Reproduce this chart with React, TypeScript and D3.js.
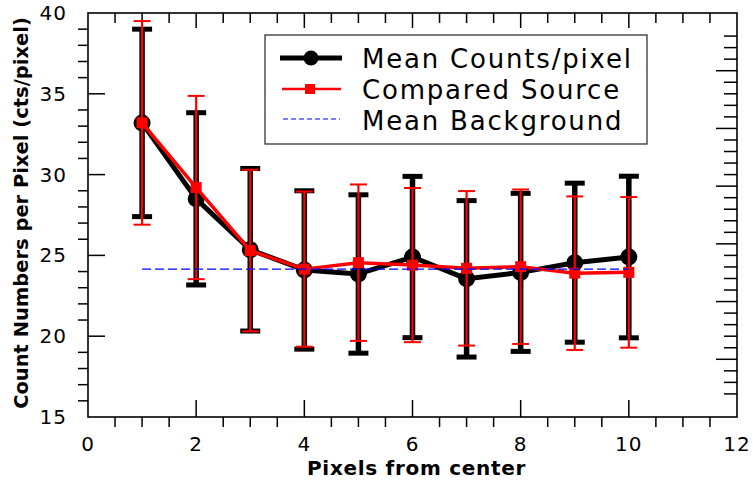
import React from "react";
import * as d3 from "d3";

// values
const pixels = [1, 2, 3, 4, 5, 6, 7, 8, 9, 10];
const meanCounts = [33.2, 28.5, 25.35, 24.1, 23.85, 24.9, 23.55, 23.95, 24.55, 24.9];
const meanErr = [5.8, 5.33, 5.03, 4.9, 4.9, 4.99, 4.84, 4.89, 4.92, 5.0];
const sourceCounts = [33.2, 29.2, 25.3, 24.15, 24.55, 24.4, 24.2, 24.3, 23.9, 23.95];
const sourceErr = [6.3, 5.67, 5.0, 4.8, 4.84, 4.77, 4.78, 4.78, 4.75, 4.66];
const meanBackground = 24.15;

const xTickLabels = [0, 2, 4, 6, 8, 10, 12];
const yTickLabels = [15, 20, 25, 30, 35, 40];
const legendLabels = ["Mean Counts/pixel", "Compared Source", "Mean Background"];

const font = "DejaVu Sans";

export default function App() {
  const x = d3.scaleLinear().domain([0, 12]).range([88, 737]);
  const y = d3.scaleLinear().domain([15, 40]).range([417, 13]);
  // unlabeled right axis has its own spacing
  const yRight = d3.scaleLinear().domain([0, 7]).range([417, 13]);

  const [x0, x1] = x.range();
  const [yb, yt] = y.range();

  const xMinor = d3.range(0.5, 12, 0.5).filter((v) => v % 2 !== 0);
  const xMajor = xTickLabels.slice(1, -1);
  const yMinor = d3.range(16, 40).filter((v) => v % 5 !== 0);
  const yMajor = yTickLabels.slice(1, -1);
  const rMajor = d3.range(1, 7);
  const rMinor = d3.range(2, 34).filter((v) => v % 5 !== 0).map((v) => v / 5);

  const line = d3
    .line<number>()
    .x((_, i) => x(pixels[i]))
    .y((d) => y(d));

  const errorBars = (vals: number[], errs: number[], color: string, w: number, capW: number, capT: number) =>
    pixels.map((p, i) => {
      const cx = x(p);
      const top = y(vals[i] + errs[i]);
      const bot = y(vals[i] - errs[i]);
      return (
        <g key={p}>
          <line x1={cx} x2={cx} y1={top} y2={bot} stroke={color} strokeWidth={w} />
          <line x1={cx - capW / 2} x2={cx + capW / 2} y1={top} y2={top} stroke={color} strokeWidth={capT} />
          <line x1={cx - capW / 2} x2={cx + capW / 2} y1={bot} y2={bot} stroke={color} strokeWidth={capT} />
        </g>
      );
    });

  return (
    <svg
      width={753}
      height={480}
      style={{ position: "absolute", left: 0, top: 0, background: "#fff" }}
      fontFamily={font}
    >
      {/* frame */}
      <rect x={x0} y={yt} width={x1 - x0} height={yb - yt} fill="none" stroke="#000" strokeWidth={1.6} />

      {/* bottom axis */}
      {xMajor.map((v) => (
        <line key={"bM" + v} x1={x(v)} x2={x(v)} y1={yb} y2={yb - 17} stroke="#000" strokeWidth={1.5} />
      ))}
      {xMinor.map((v) => (
        <line key={"bm" + v} x1={x(v)} x2={x(v)} y1={yb} y2={yb + 10} stroke="#000" strokeWidth={1.5} />
      ))}
      {xTickLabels.map((v) => (
        <text key={"bl" + v} x={x(v)} y={451} fontSize={20} textAnchor="middle" letterSpacing={1}>
          {v}
        </text>
      ))}

      {/* top axis */}
      {xMajor.map((v) => (
        <line key={"tM" + v} x1={x(v)} x2={x(v)} y1={yt} y2={yt + 15} stroke="#000" strokeWidth={1.5} />
      ))}
      {xMinor.map((v) => (
        <line key={"tm" + v} x1={x(v)} x2={x(v)} y1={yt} y2={yt + 10} stroke="#000" strokeWidth={1.5} />
      ))}

      {/* left axis */}
      {yMajor.map((v) => (
        <line key={"lM" + v} x1={x0} x2={x0 + 17} y1={y(v)} y2={y(v)} stroke="#000" strokeWidth={1.5} />
      ))}
      {yMinor.map((v) => (
        <line key={"lm" + v} x1={x0} x2={x0 - 10} y1={y(v)} y2={y(v)} stroke="#000" strokeWidth={1.5} />
      ))}
      {yTickLabels.map((v) => (
        <text key={"ll" + v} x={67} y={y(v) + 7} fontSize={20} textAnchor="end" letterSpacing={1}>
          {v}
        </text>
      ))}

      {/* right axis */}
      {rMajor.map((v) => (
        <line key={"rM" + v} x1={x1} x2={x1 - 21} y1={yRight(v)} y2={yRight(v)} stroke="#000" strokeWidth={1.5} />
      ))}
      {rMinor.map((v) => (
        <line key={"rm" + v} x1={x1} x2={x1 - 13} y1={yRight(v)} y2={yRight(v)} stroke="#000" strokeWidth={1.5} />
      ))}

      {/* axis titles */}
      <text x={(x0 + x1) / 2 + 4} y={475} fontSize={20} fontWeight="bold" textAnchor="middle" letterSpacing={0.7}>
        Pixels from center
      </text>
      <text
        transform={`translate(28,213) rotate(-90)`}
        fontSize={19.5}
        fontWeight="bold"
        textAnchor="middle"
      >
        Count Numbers per Pixel (cts/pixel)
      </text>

      {/* mean counts series */}
      {errorBars(meanCounts, meanErr, "#000", 5.5, 20, 5)}
      <path d={line(meanCounts) ?? ""} fill="none" stroke="#000" strokeWidth={5} strokeLinejoin="round" />
      {pixels.map((p, i) => (
        <circle key={"c" + p} cx={x(p)} cy={y(meanCounts[i])} r={8.5} fill="#000" />
      ))}

      {/* compared source series */}
      {errorBars(sourceCounts, sourceErr, "#ff0000", 2.2, 17, 2)}
      <path d={line(sourceCounts) ?? ""} fill="none" stroke="#ff0000" strokeWidth={3.5} strokeLinejoin="round" />
      {pixels.map((p, i) => (
        <rect key={"s" + p} x={x(p) - 5.5} y={y(sourceCounts[i]) - 5.5} width={11} height={11} fill="#ff0000" />
      ))}

      {/* background level */}
      <line
        x1={x(pixels[0])}
        x2={x(pixels[pixels.length - 1])}
        y1={y(meanBackground)}
        y2={y(meanBackground)}
        stroke="#0000ff"
        strokeWidth={1.3}
        strokeDasharray="9,4"
      />

      {/* legend */}
      <rect x={265} y={35} width={382} height={109} fill="#fff" stroke="#222" strokeWidth={1.2} />
      <line x1={280} x2={342} y1={58} y2={58} stroke="#000" strokeWidth={5} />
      <circle cx={311} cy={58} r={7.5} fill="#000" />
      <line x1={282} x2={341} y1={89} y2={89} stroke="#ff0000" strokeWidth={2.5} />
      <rect x={305} y={84} width={10} height={10} fill="#ff0000" />
      <line x1={283} x2={340} y1={119} y2={119} stroke="#0000ff" strokeWidth={1.2} strokeDasharray="5,3" />
      {legendLabels.map((t, i) => (
        <text key={t} x={362} y={68 + i * 31} fontSize={26} letterSpacing={1.8}>
          {t}
        </text>
      ))}
    </svg>
  );
}
